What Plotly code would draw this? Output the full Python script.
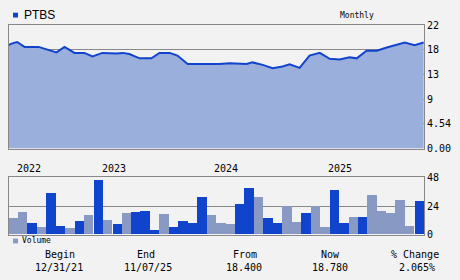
import pandas as pd
import plotly.graph_objects as go

# ---------------- data ----------------
ticker = "PTBS"
period_label = "Monthly"

price_dates = ["2022-01-15", "2022-01-25", "2022-02-12", "2022-03-08", "2022-04-22", "2022-05-05",
               "2022-05-21", "2022-06-19", "2022-07-15", "2022-08-16", "2022-09-17", "2022-10-13",
               "2022-11-14", "2022-12-30", "2023-01-18", "2023-02-09", "2023-03-14", "2023-04-21",
               "2023-05-17", "2023-06-19", "2023-07-14", "2023-08-16", "2023-09-23", "2023-11-27",
               "2023-12-29", "2024-02-22", "2024-03-12", "2024-04-14", "2024-05-16", "2024-06-17",
               "2024-07-10", "2024-08-11", "2024-09-12", "2024-10-15", "2024-11-16", "2024-12-18",
               "2025-01-19", "2025-02-11", "2025-03-15", "2025-04-17", "2025-05-19", "2025-06-20",
               "2025-07-16", "2025-08-17", "2025-09-15"]
price_values = [19.0, 19.3, 19.6, 18.7, 18.7, 18.5,
                18.2, 17.7, 18.7, 17.6, 17.6, 16.95,
                17.6, 17.5, 17.6, 17.4, 16.6, 16.6,
                17.6, 17.6, 17.1, 15.55, 15.55, 15.55,
                15.7, 15.55, 15.85, 15.4, 14.8, 15.1,
                15.5, 14.85, 17.1, 17.6, 16.5, 16.4,
                16.8, 16.6, 18.0, 18.0, 18.6, 19.1,
                19.5, 19.0, 19.5]

volume_months = [d.strftime("%Y-%m-%d") for d in pd.date_range("2022-02-01", "2025-09-01", freq="MS")]
volume_values = [13.6, 18.4, 9.6, 6.4, 34.4, 7.2, 5.6, 11.2, 16.0, 45.6, 12.0,
                 8.8, 17.6, 18.4, 19.2, 4.0, 16.8, 6.4, 11.2, 9.6, 31.2, 16.0,
                 9.6, 8.8, 25.6, 38.4, 31.2, 13.6, 9.6, 24.0, 10.4, 17.6, 24.0,
                 6.4, 36.8, 9.6, 14.4, 14.4, 32.8, 19.2, 17.6, 28.8, 7.2, 28.0]
volume_up = ["L", "L", "D", "L", "D", "D", "L", "D", "L", "D", "L",
             "D", "L", "D", "D", "D", "L", "D", "D", "D", "D", "L",
             "L", "L", "D", "D", "L", "D", "D", "L", "L", "D", "L",
             "L", "D", "D", "L", "D", "L", "L", "L", "L", "L", "D"]

year_labels = ["2022", "2023", "2024", "2025"]
year_dates = ["2022-03-21", "2022-12-20", "2023-12-19", "2024-12-18"]

price_tickvals = [0, 4.54, 9.08, 13.62, 18.16, 22.7]
price_ticktext = ["0.00", "4.54", "9", "13", "18", "22"]
volume_tickvals = [0, 24, 48]
volume_ticktext = ["0", "24", "48"]

summary_headers = ["Begin", "End", "From", "Now", "% Change"]
summary_values = ["12/31/21", "11/07/25", "18.400", "18.780", "2.065%"]

# ---------------- styling ----------------
W, H = 460, 280
BG = "#f2f2f2"
LINE = "#1144cc"
FILL = "#9bafdd"
LIGHT = "#8899c4"
FRAME = "#888888"
MONO = "DejaVu Sans Mono"

def px_x(x):
    return x / W

def px_y(y):
    return 1 - y / H

x_range = [pd.Timestamp(volume_months[0]) - pd.Timedelta(days=15.2),
           pd.Timestamp(volume_months[-1]) + pd.Timedelta(days=15.2)]

fig = go.Figure()

fig.add_trace(go.Scatter(
    x=price_dates, y=price_values, mode="lines",
    line=dict(color=LINE, width=2), fill="tozeroy", fillcolor=FILL,
    xaxis="x", yaxis="y", showlegend=False, hoverinfo="skip"))

bar_colors = [LINE if u == "D" else LIGHT for u in volume_up]
fig.add_trace(go.Bar(
    x=volume_months, y=volume_values, marker=dict(color=bar_colors, line=dict(width=0)),
    width=30.44 * 86400000, xaxis="x2", yaxis="y2", showlegend=False, hoverinfo="skip"))

axis_common = dict(showline=True, linecolor=FRAME, linewidth=1, mirror=True, zeroline=False)

fig.update_layout(
    width=W, height=H, margin=dict(l=0, r=0, t=0, b=0),
    paper_bgcolor=BG, plot_bgcolor=BG, bargap=0,
    xaxis=dict(domain=[px_x(9), px_x(424)], range=x_range, type="date",
               showgrid=False, showticklabels=False, ticks="", anchor="y", **axis_common),
    yaxis=dict(domain=[px_y(149), px_y(20)], range=[0, 22.7], side="right",
               tickvals=price_tickvals, ticktext=price_ticktext, showgrid=True,
               gridcolor=FRAME, gridwidth=1, ticks="",
               tickfont=dict(family=MONO, size=10, color="#000"), anchor="x", **axis_common),
    xaxis2=dict(domain=[px_x(9), px_x(424)], range=x_range, type="date",
                showgrid=False, showticklabels=False, ticks="", anchor="y2", **axis_common),
    yaxis2=dict(domain=[px_y(239), px_y(179)], range=[0, 48], side="right",
                tickvals=volume_tickvals, ticktext=volume_ticktext, showgrid=True,
                gridcolor=FRAME, gridwidth=1, ticks="",
                tickfont=dict(family=MONO, size=10, color="#000"), anchor="x2", **axis_common),
)

annotations = []
shapes = []

# legend PTBS
shapes.append(dict(type="rect", xref="paper", yref="paper",
                   x0=px_x(13), x1=px_x(18), y0=px_y(12), y1=px_y(7),
                   fillcolor=LINE, line=dict(width=0)))
annotations.append(dict(text=ticker, xref="paper", yref="paper", x=px_x(22), y=px_y(9.5),
                        xanchor="left", yanchor="middle", showarrow=False,
                        font=dict(family="Liberation Sans", size=12, color="#000")))
annotations.append(dict(text=period_label, xref="paper", yref="paper", x=px_x(357), y=px_y(9.5),
                        xanchor="center", yanchor="middle", showarrow=False,
                        font=dict(family=MONO, size=8, color="#000")))
# legend Volume
shapes.append(dict(type="rect", xref="paper", yref="paper",
                   x0=px_x(13), x1=px_x(18), y0=px_y(248), y1=px_y(243),
                   fillcolor=LIGHT, line=dict(width=0)))
annotations.append(dict(text="Volume", xref="paper", yref="paper", x=px_x(20), y=px_y(245.5),
                        xanchor="left", yanchor="middle", showarrow=False,
                        font=dict(family=MONO, size=8, color="#000")))

# year labels
for lab, d in zip(year_labels, year_dates):
    annotations.append(dict(text=lab, xref="x2", yref="paper", x=d, y=px_y(170),
                            xanchor="center", yanchor="middle", showarrow=False,
                            font=dict(family=MONO, size=10, color="#000")))

# summary
head_x = [60, 146, 245, 330, 415]
val_x = [59, 148, 244, 330, 417]
for h, v, hx, vx in zip(summary_headers, summary_values, head_x, val_x):
    annotations.append(dict(text=h, xref="paper", yref="paper", x=px_x(hx), y=px_y(259.5),
                            xanchor="center", yanchor="middle", showarrow=False,
                            font=dict(family=MONO, size=10, color="#000")))
    annotations.append(dict(text=v, xref="paper", yref="paper", x=px_x(vx), y=px_y(273),
                            xanchor="center", yanchor="middle", showarrow=False,
                            font=dict(family=MONO, size=10, color="#000")))

fig.update_layout(annotations=annotations, shapes=shapes)
fig.write_html("out.html")
